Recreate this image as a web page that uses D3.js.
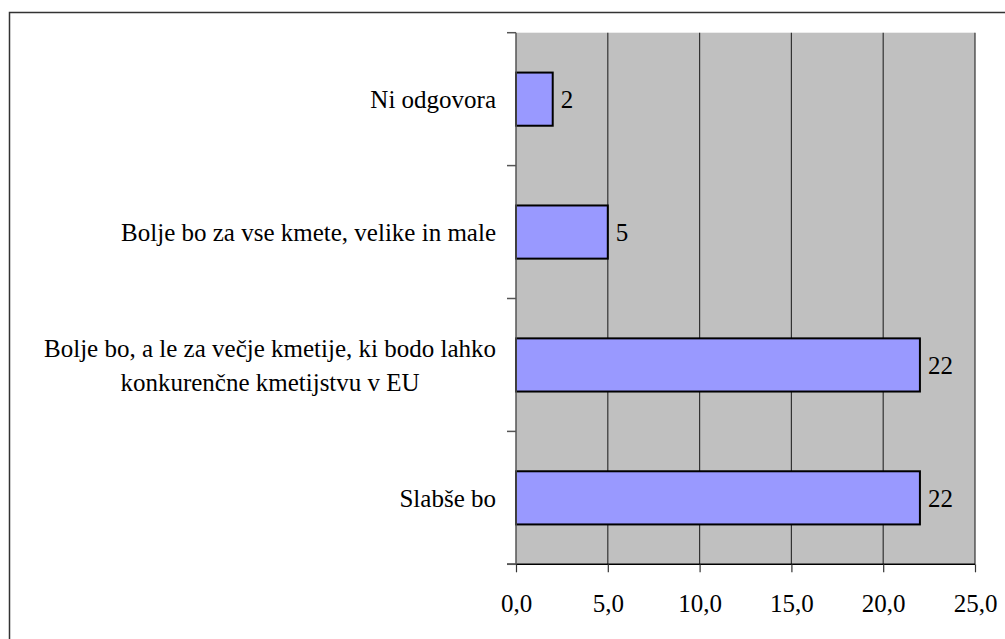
<!DOCTYPE html>
<html>
<head>
<meta charset="utf-8">
<script src="https://cdn.jsdelivr.net/npm/d3@7"></script>
<style>
  body { margin: 0; background: #fff; }
</style>
</head>
<body>
<svg id="chart" width="1005" height="639"></svg>
<script>
// category labels, top to bottom (each inner array = wrapped lines)
const categories = [
    ["Ni odgovora"],
    ["Bolje bo za vse kmete, velike in male"],
    ["Bolje bo, a le za večje kmetije, ki bodo lahko", "konkurenčne kmetijstvu v EU"],
    ["Slabše bo"]
];
const values = [2, 5, 22, 22];
const xTicks = [0, 5, 10, 15, 20, 25];

const FONT = "Liberation Serif";
const svg = d3.select("#chart");

// outer frame (cut off at right/bottom like the picture)
svg.append("rect")
    .attr("x", 9.5).attr("y", 12.5)
    .attr("width", 1100).attr("height", 700)
    .attr("fill", "none")
    .attr("stroke", "#333")
    .attr("stroke-width", 1.5);

const plotLeft = 516, plotRight = 975, plotTop = 32.7, plotBottom = 564.3;

let x = d3.scaleLinear().domain([0, 25]).range([plotLeft, plotRight]);
let y = d3.scaleBand()
    .domain(d3.range(categories.length))
    .range([plotTop, plotBottom])
    .paddingInner(0.6)
    .paddingOuter(0.3);

// plot area
svg.append("rect")
    .attr("x", plotLeft).attr("y", plotTop)
    .attr("width", plotRight - plotLeft).attr("height", plotBottom - plotTop)
    .attr("fill", "#c0c0c0");

// vertical gridlines
svg.selectAll("line.grid")
    .data(xTicks.slice(1))
    .enter().append("line")
    .attr("class", "grid")
    .attr("x1", d => x(d)).attr("x2", d => x(d))
    .attr("y1", plotTop).attr("y2", plotBottom)
    .attr("stroke", "#333")
    .attr("stroke-width", 1.2);

// bars
svg.selectAll("rect.bar")
    .data(values)
    .enter().append("rect")
    .attr("class", "bar")
    .attr("x", x(0))
    .attr("y", (d, i) => y(i))
    .attr("width", d => x(d) - x(0))
    .attr("height", y.bandwidth())
    .attr("fill", "#9999ff")
    .attr("stroke", "#000")
    .attr("stroke-width", 2);

// value labels
svg.selectAll("text.val")
    .data(values)
    .enter().append("text")
    .attr("class", "val")
    .attr("x", d => x(d) + 8)
    .attr("y", (d, i) => y(i) + y.bandwidth() / 2)
    .attr("dy", "0.35em")
    .attr("font-family", FONT)
    .attr("font-size", 25)
    .text(d => d);

// x axis
const fmt = d3.formatLocale({decimal: ",", thousands: ".", grouping: [3], currency: ["", "€"]}).format(".1f");
const xAxis = d3.axisBottom(x)
    .tickValues(xTicks)
    .tickFormat(fmt)
    .tickSize(8)
    .tickPadding(22);
svg.append("g")
    .attr("transform", "translate(0," + plotBottom + ")")
    .call(xAxis)
    .attr("font-family", FONT)
    .attr("font-size", 25)
    .call(g => g.select(".domain").attr("d", `M${plotLeft - 9},0H${plotRight}`).attr("stroke", "#000").attr("stroke-width", 1.5))
    .call(g => g.selectAll(".tick line").attr("stroke", "#333").attr("stroke-width", 1.2));

// y axis: line at 0 with ticks at band boundaries
const bounds = d3.range(categories.length + 1).map(i => plotTop + i * y.step());
svg.append("line")
    .attr("x1", plotLeft).attr("x2", plotLeft)
    .attr("y1", plotTop).attr("y2", plotBottom)
    .attr("stroke", "#555").attr("stroke-width", 1.5);
svg.selectAll("line.ytick")
    .data(bounds)
    .enter().append("line")
    .attr("class", "ytick")
    .attr("x1", plotLeft - 9).attr("x2", plotLeft)
    .attr("y1", d => d).attr("y2", d => d)
    .attr("stroke", "#555").attr("stroke-width", 1.5);

// category labels: lines centred among themselves, block right-aligned
const labelRight = 496;
const lineGap = 34;
categories.forEach(function(lines, i) {
    let cy = y(i) + y.bandwidth() / 2;
    let t = svg.append("text")
        .attr("text-anchor", "middle")
        .attr("font-family", FONT)
        .attr("font-size", 25);
    lines.forEach(function(line, j) {
        t.append("tspan")
            .attr("y", cy + (j - (lines.length - 1) / 2) * lineGap)
            .attr("dy", "0.35em")
            .text(line);
    });
    let maxW = d3.max(t.selectAll("tspan").nodes(), n => n.getComputedTextLength());
    t.selectAll("tspan").attr("x", labelRight - maxW / 2);
});
</script>
</body>
</html>
